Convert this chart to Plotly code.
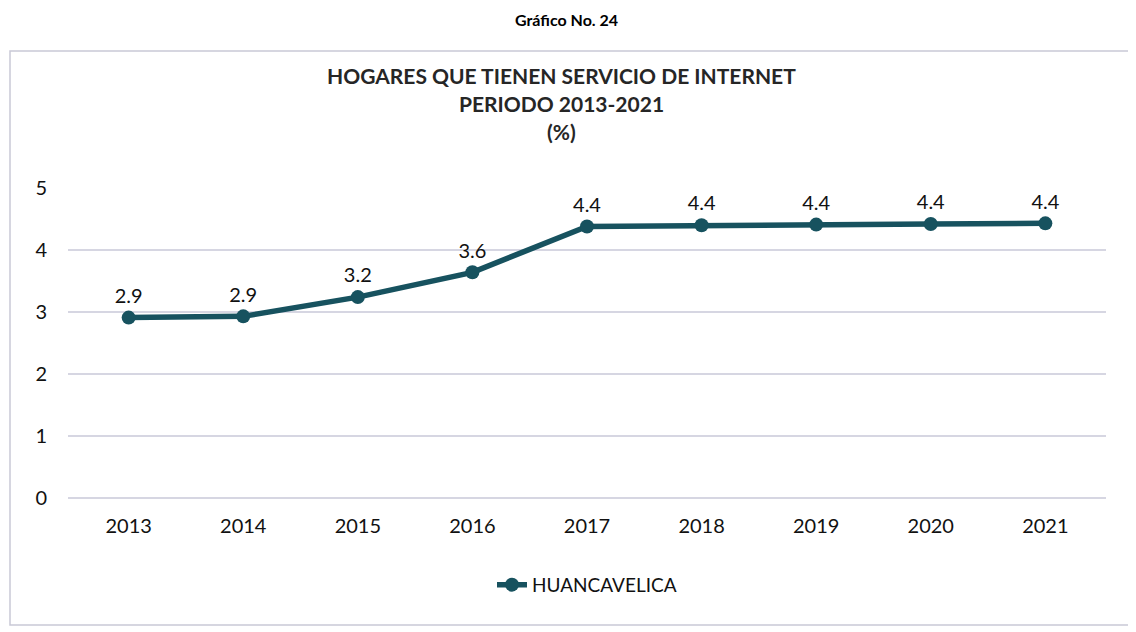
import plotly.graph_objects as go

# Datos: hogares con servicio de internet, Huancavelica (%)
anios = ["2013", "2014", "2015", "2016", "2017", "2018", "2019", "2020", "2021"]
huancavelica = [2.91, 2.93, 3.24, 3.64, 4.38, 4.40, 4.41, 4.42, 4.43]
etiquetas = ["2.9", "2.9", "3.2", "3.6", "4.4", "4.4", "4.4", "4.4", "4.4"]

COLOR = "#17525f"
FUENTE = "Lato, Open Sans, sans-serif"

fig = go.Figure()

fig.add_trace(go.Scatter(
    x=anios,
    y=huancavelica,
    mode="lines+markers+text",
    name="HUANCAVELICA",
    line=dict(color=COLOR, width=5.5),
    marker=dict(color=COLOR, size=14),
    text=etiquetas,
    textposition="top center",
    textfont=dict(size=20, color="#111111", family=FUENTE),
    cliponaxis=False,
))

titulos = ["HOGARES QUE TIENEN SERVICIO DE INTERNET", "PERIODO 2013-2021", "(%)"]
for k, t in enumerate(titulos):
    fig.add_annotation(
        text=f"<b>{t}</b>", xref="paper", yref="paper",
        x=0.475, y=1 + (127 - 28 * k) / 310, showarrow=False,
        font=dict(size=21, color="#262626", family=FUENTE),
    )

# encabezado de la página
fig.add_annotation(
    text="<b>Gráfico No. 24</b>", xref="paper", yref="paper",
    x=0.48, y=1 + 180 / 310, yanchor="top", showarrow=False,
    font=dict(size=16, color="#000000", family=FUENTE),
)

# marco del área del gráfico
fig.add_shape(
    type="rect", xref="paper", yref="paper",
    x0=-58 / 1038, x1=1062 / 1038,
    y0=-(617 - 490) / 310, y1=1 + (180 - 43) / 310,
    line=dict(color="#c9c9d6", width=1.5),
)

fig.update_layout(
    width=1136,
    height=632,
    paper_bgcolor="white",
    plot_bgcolor="white",
    margin=dict(l=60, r=38, t=180, b=142),
    font=dict(family=FUENTE, size=18, color="#111111"),
    showlegend=True,
    legend=dict(
        orientation="h", x=0.5, xanchor="center", y=-0.28, yanchor="middle",
        font=dict(size=19, color="#111111"),
    ),
    xaxis=dict(
        type="category", showgrid=False, showline=False, zeroline=False,
        ticks="", tickfont=dict(size=20), ticklabelstandoff=14,
    ),
    yaxis=dict(
        range=[0, 5], dtick=1, showgrid=True, gridcolor="#d6d6e2", gridwidth=1.5,
        zeroline=True, zerolinecolor="#d6d6e2", zerolinewidth=1.5,
        showline=False, ticks="", tickfont=dict(size=20), ticklabelstandoff=20,
    ),
)

fig.write_html("out.html")
